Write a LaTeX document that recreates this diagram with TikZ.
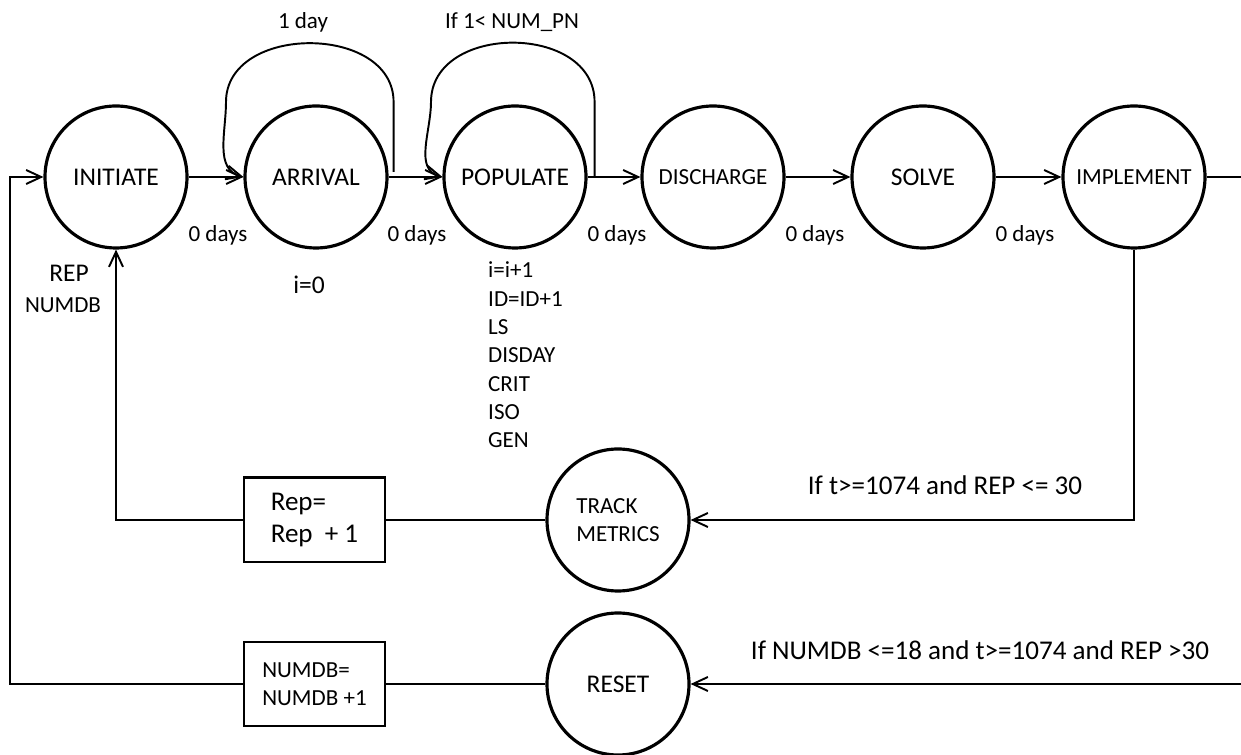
\documentclass[tikz,border=0pt]{standalone}
\usepackage{fontspec}
\setmainfont{Carlito}
\usetikzlibrary{arrows.meta}

\begin{document}
\begin{tikzpicture}[
    phase/.style={draw,circle,line width=1.8pt,minimum size=2.84cm,inner sep=0pt,font=\fontsize{14.5}{17}\selectfont},
    small/.style={font=\fontsize{13.1}{16}\selectfont},
    calcbox/.style={draw,rectangle,line width=1.7pt,minimum width=2.82cm,minimum height=1.68cm,align=left},
    flow/.style={line width=1.1pt,-{Straight Barb[length=3mm,width=2.8mm,line width=1.1pt]}},
    link/.style={line width=1.1pt},
    cond/.style={font=\fontsize{15.4}{18}\selectfont}]
    \useasboundingbox (0,0) rectangle (24.82,15.1);
    % states along the top
    \node[phase] (initiate) at (2.32,11.56) {INITIATE};
    \node[phase] (arrival) at (6.32,11.56) {ARRIVAL};
    \node[phase] (populate) at (10.30,11.56) {POPULATE};
    \node[phase,small] (discharge) at (14.26,11.56) {DISCHARGE};
    \node[phase] (solve) at (18.46,11.56) {SOLVE};
    \node[phase,small] (implement) at (22.68,11.56) {IMPLEMENT};
    % states and updates at the bottom
    \node[phase,small,align=left] (track) at (12.36,4.70) {TRACK\\METRICS};
    \node[phase] (reset) at (12.36,1.42) {RESET};
    \node[calcbox,font=\fontsize{15.4}{18.2}\selectfont] (repbox) at (6.29,4.70) {Rep=\\Rep~~+ 1};
    \node[calcbox,small] (numdbbox) at (6.29,1.42) {NUMDB=\\NUMDB +1};
    \coordinate (edgetop) at (24.82,11.56);
    \coordinate (edgebot) at (24.82,1.42);
    \coordinate (farleft) at (0.2,1.42);

    \draw[flow] (initiate) -- (arrival);
    \draw[flow] (arrival) -- (populate);
    \draw[flow] (populate) -- (discharge);
    \draw[flow] (discharge) -- (solve);
    \draw[flow] (solve) -- (implement);
    \draw[link] (implement) -- (edgetop);
    \draw[flow] (implement) |- (track);
    \draw[flow] (edgebot) -- (reset);
    \draw[link] (track) -- (repbox);
    \draw[link] (reset) -- (numdbbox);
    \draw[flow] (repbox) -| (initiate);
    \draw[flow] (numdbbox) -- (farleft) |- (initiate);
    % self loops
    \draw[flow] ([xshift=0.1cm,yshift=0.1cm]arrival.east) -- ++(0,1.4)
        to[out=90,in=90,looseness=1.2] (4.52,13.06) to[out=-90,in=165] (arrival.west);
    \draw[flow] ([xshift=0.14cm]populate.east) -- ++(0,1.5)
        to[out=90,in=90,looseness=1.24] (8.62,13.06) to[out=-90,in=165] (populate.west);

    \node[small] (dayone) at (6.06,14.66) {1 day};
    \node[small] (numpn) at (10.24,14.66) {If 1< NUM\_PN};
    \node[small] (delay1) at (4.36,10.4) {0 days};
    \node[small] (delay2) at (8.34,10.4) {0 days};
    \node[small] (delay3) at (12.34,10.4) {0 days};
    \node[small] (delay4) at (16.30,10.4) {0 days};
    \node[small] (delay5) at (20.50,10.4) {0 days};
    \node[font=\fontsize{14.5}{17}\selectfont] (replbl) at (1.38,9.64) {REP};
    \node[small] (numdblbl) at (1.26,9.0) {NUMDB};
    \node[font=\fontsize{14.5}{17}\selectfont] (izero) at (6.18,9.4) {i=0};
    \node[small,anchor=base west] (var1) at (9.64,9.54) {i=i+1};
    \node[small,anchor=base west] (var2) at (9.64,8.97) {ID=ID+1};
    \node[small,anchor=base west] (var3) at (9.64,8.41) {LS};
    \node[small,anchor=base west] (var4) at (9.64,7.84) {DISDAY};
    \node[small,anchor=base west] (var5) at (9.64,7.27) {CRIT};
    \node[small,anchor=base west] (var6) at (9.64,6.71) {ISO};
    \node[small,anchor=base west] (var7) at (9.64,6.14) {GEN};
    \node[cond] (condtrack) at (18.9,5.4) {If t>=1074 and REP <= 30};
    \node[cond] (condreset) at (19.6,2.1) {If NUMDB <=18 and t>=1074 and REP >30};
\end{tikzpicture}
\end{document}
